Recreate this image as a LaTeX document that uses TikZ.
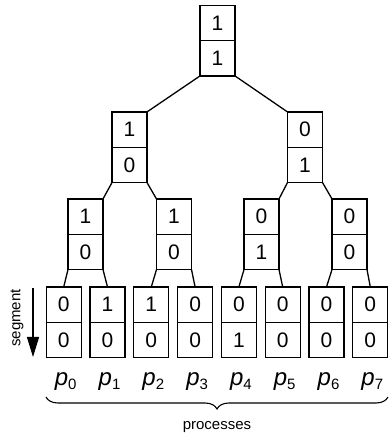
\documentclass[tikz,border=0pt]{standalone}
\usepackage{fontspec}
\setmainfont{Liberation Sans}
\usetikzlibrary{positioning,arrows.meta,decorations.pathreplacing}

\newcommand{\proc}[1]{{\itshape p}\raisebox{-4pt}{\fontsize{15}{15}\selectfont #1}}

\tikzset{
    cell/.style={draw, line width=1.3pt, outer sep=0pt, inner sep=0pt,
        minimum width=35pt, minimum height=35.3pt,
        font=\fontsize{21}{21}\selectfont},
    link/.style={line width=1.3pt},
    note/.style={font=\fontsize{15}{15}\selectfont},
}

\begin{document}
\begin{tikzpicture}[x=1pt,y=1pt]
        \useasboundingbox (0,0) rectangle (388,438);

        % root
        \node[cell] (r) at (217.5,415) {1};
        \node[cell, below=0pt of r] (rb) {1};

        % second level
        \node[cell] (a) at (129.5,308.4) {1};
        \node[cell, below=0pt of a] (ab) {0};
        \node[cell] (b) at (305,308.4) {0};
        \node[cell, below=0pt of b] (bb) {1};

        % third level
        \node[cell] (c0) at (85.5,221.4) {1};
        \node[cell, below=0pt of c0] (c0b) {0};
        \node[cell] (c1) at (174,221.4) {1};
        \node[cell, below=0pt of c1] (c1b) {0};
        \node[cell] (c2) at (261.5,221.4) {0};
        \node[cell, below=0pt of c2] (c2b) {1};
        \node[cell] (c3) at (349.5,221.4) {0};
        \node[cell, below=0pt of c3] (c3b) {0};

        % processes
        \foreach \i/\u/\d in {0/0/0, 1/1/0, 2/1/0, 3/0/0, 4/0/1, 5/0/0, 6/0/0, 7/0/0} {
            \node[cell] (l\i) at (63.7+43.8*\i,133.4) {\u};
            \node[cell, below=0pt of l\i] (l\i b) {\d};
            \node[font=\fontsize{24}{24}\selectfont] (p\i) at (65.7+43.8*\i,56) {\proc{\i}};
        }

        \draw[link] (rb.south west) -- (a.north east);
        \draw[link] (rb.south east) -- (b.north west);
        \draw[link] (ab.south west) -- (c0.north east);
        \draw[link] (ab.south east) -- (c1.north west);
        \draw[link] (bb.south west) -- (c2.north east);
        \draw[link] (bb.south east) -- (c3.north west);
        \draw[link] (c0b.south west) -- (l0.north);
        \draw[link] (c0b.south east) -- (l1.north);
        \draw[link] (c1b.south west) -- (l2.north);
        \draw[link] (c1b.south east) -- (l3.north);
        \draw[link] (c2b.south west) -- (l4.north);
        \draw[link] (c2b.south east) -- (l5.north);
        \draw[link] (c3b.south west) -- (l6.north);
        \draw[link] (c3b.south east) -- (l7.north);

        % segment arrow
        \coordinate (s1) at (33,150);
        \coordinate (s2) at (33,81);
        \draw[link, -{Triangle[width=12pt,length=20pt]}] (s1) -- (s2);
        \node[note, rotate=90] (seg) at (17,120) {segment};

        % brace
        \coordinate (b1) at (46,41);
        \coordinate (b2) at (388,41);
        \draw[line width=1.1pt, decorate, decoration={brace, mirror, amplitude=12pt}] (b1) -- (b2);
        \node[note] (procs) at (217,11) {processes};
    \end{tikzpicture}
\end{document}
